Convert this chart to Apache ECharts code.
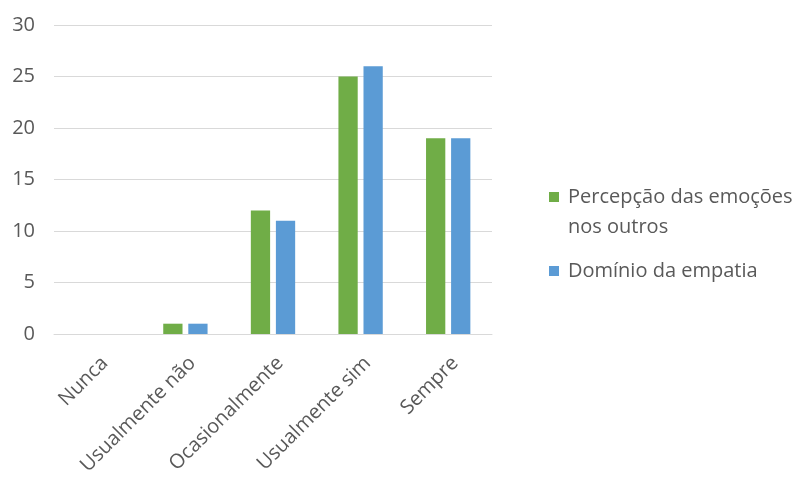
<!DOCTYPE html>
<html>
<head>
<meta charset="utf-8">
<script src="https://cdn.jsdelivr.net/npm/echarts@6/dist/echarts.min.js"></script>
<style>html,body{margin:0;padding:0;background:#fff}#c{width:805px;height:478px}</style>
</head>
<body>
<div id="c"></div>
<script>
const categories = ['Nunca', 'Usualmente não', 'Ocasionalmente', 'Usualmente sim', 'Sempre'];
const seriesNames = ['Percepção das emoções nos outros', 'Domínio da empatia'];
const percepcao = [0, 1, 12, 25, 19];
const dominio = [0, 1, 11, 26, 19];
const yTicks = { min: 0, max: 30, interval: 5 };

const chart = echarts.init(document.getElementById('c'), null, { renderer: 'canvas' });
const FONT = 'Open Sans';
const TXT = '#595959';
chart.setOption({
  animation: false,
  backgroundColor: '#fff',
  grid: { left: 54, right: 313, top: 25, bottom: 144, containLabel: false, outerBoundsMode: 'none' },
  xAxis: {
    type: 'category',
    data: categories,
    axisLine: { show: true, lineStyle: { color: '#D9D9D9', width: 1 } },
    axisTick: { show: false },
    axisLabel: { rotate: 45, margin: 19, verticalAlign: 'top', color: TXT, fontFamily: FONT, fontSize: 20, interval: 0 }
  },
  yAxis: {
    type: 'value',
    min: yTicks.min, max: yTicks.max, interval: yTicks.interval,
    axisLine: { show: false },
    axisTick: { show: false },
    splitLine: { lineStyle: { color: '#D9D9D9', width: 1 } },
    axisLabel: { margin: 19, color: TXT, fontFamily: FONT, fontSize: 20 }
  },
  legend: {
    orient: 'vertical',
    left: 544,
    top: 177,
    itemWidth: 14,
    itemHeight: 40,
    itemGap: 9,
    textStyle: { color: TXT, fontFamily: FONT, fontSize: 20, lineHeight: 30 },
    formatter: function (name) {
      return name === seriesNames[0] ? 'Percepção das emoções\nnos outros' : name;
    },
    data: [
      { name: seriesNames[0], icon: 'path://M0,0H10V10H0Z M13.9,39.9H14V40H13.9Z' },
      { name: seriesNames[1], icon: 'path://M0,15H10V25H0Z M0,0H0.1V0.1H0Z M13.9,39.9H14V40H13.9Z' }
    ]
  },
  series: [
    { name: seriesNames[0], type: 'bar', data: percepcao, barWidth: '22%', barGap: '30%',
      itemStyle: { color: '#70AD47' } },
    { name: seriesNames[1], type: 'bar', data: dominio, barWidth: '22%', barGap: '30%',
      itemStyle: { color: '#5B9BD5' } }
  ]
});
</script>
</body>
</html>
